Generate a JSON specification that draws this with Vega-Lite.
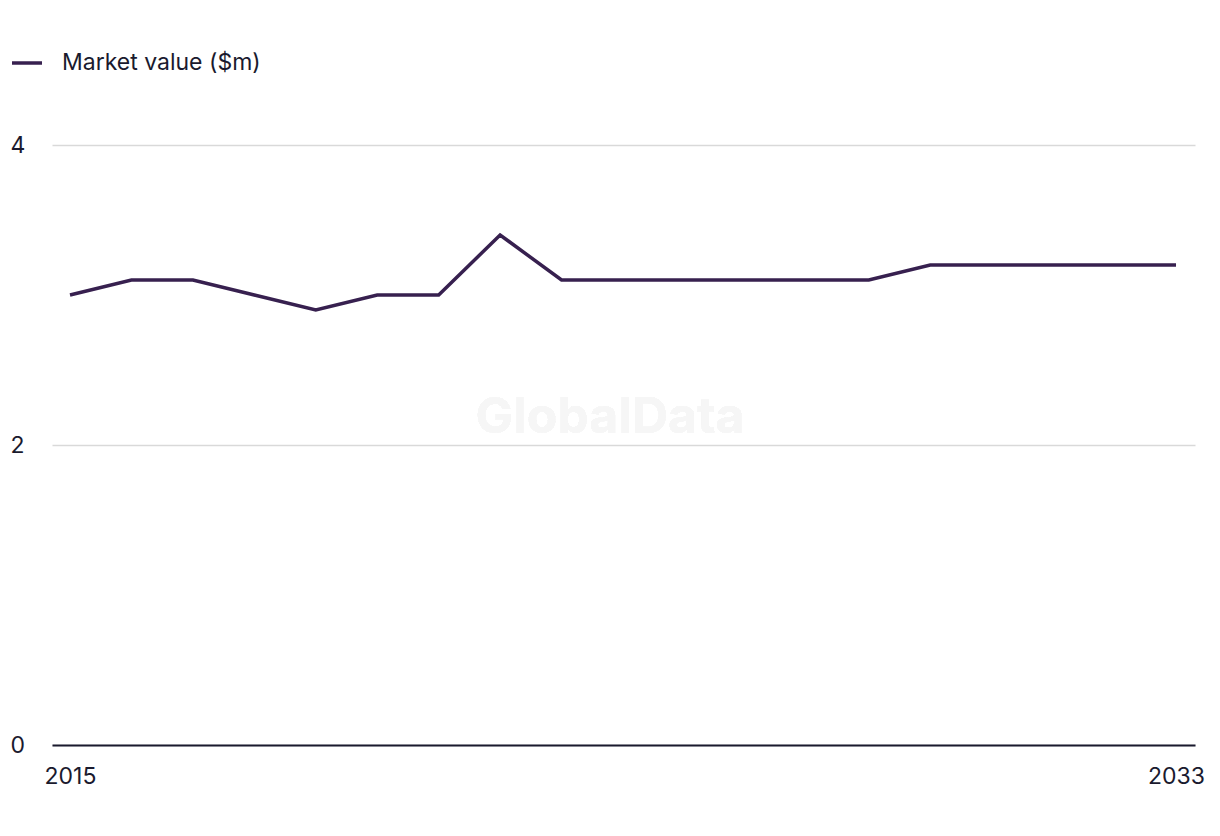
{
  "$schema": "https://vega.github.io/schema/vega-lite/v6.json",
  "autosize": {"type": "none"},
  "width": 1143,
  "height": 600,
  "padding": {"left": 52, "top": 145, "right": 25, "bottom": 91},
  "background": "white",
  "config": {
    "view": {"stroke": null},
    "font": "Inter",
    "axis": {"labelFont": "Inter", "labelFontSize": 23, "labelColor": "#1a1a2e", "ticks": false, "title": null}
  },
  "data": {
    "values": [
      {"year": 2015, "value": 3.0, "series": "Market value ($m)"},
      {"year": 2016, "value": 3.1, "series": "Market value ($m)"},
      {"year": 2017, "value": 3.1, "series": "Market value ($m)"},
      {"year": 2018, "value": 3.0, "series": "Market value ($m)"},
      {"year": 2019, "value": 2.9, "series": "Market value ($m)"},
      {"year": 2020, "value": 3.0, "series": "Market value ($m)"},
      {"year": 2021, "value": 3.0, "series": "Market value ($m)"},
      {"year": 2022, "value": 3.4, "series": "Market value ($m)"},
      {"year": 2023, "value": 3.1, "series": "Market value ($m)"},
      {"year": 2024, "value": 3.1, "series": "Market value ($m)"},
      {"year": 2025, "value": 3.1, "series": "Market value ($m)"},
      {"year": 2026, "value": 3.1, "series": "Market value ($m)"},
      {"year": 2027, "value": 3.1, "series": "Market value ($m)"},
      {"year": 2028, "value": 3.1, "series": "Market value ($m)"},
      {"year": 2029, "value": 3.2, "series": "Market value ($m)"},
      {"year": 2030, "value": 3.2, "series": "Market value ($m)"},
      {"year": 2031, "value": 3.2, "series": "Market value ($m)"},
      {"year": 2032, "value": 3.2, "series": "Market value ($m)"},
      {"year": 2033, "value": 3.2, "series": "Market value ($m)"}
    ]
  },
  "layer": [
    {
      "mark": {"type": "text", "text": "GlobalData", "fontSize": 50, "fontWeight": "bold", "font": "Inter", "color": "#f6f6f6"},
      "encoding": {
        "x": {"datum": 2023.79, "type": "quantitative"},
        "y": {"datum": 2.18, "type": "quantitative"}
      }
    },
    {
      "mark": {"type": "line", "strokeWidth": 3.5, "interpolate": "linear"},
      "encoding": {
        "x": {
          "field": "year", "type": "quantitative",
          "scale": {"domain": [2014.707, 2033.309], "nice": false, "zero": false},
          "axis": {"values": [2015, 2033], "format": "d", "grid": false, "domain": true, "domainColor": "#1a1a2e", "domainWidth": 2, "labelPadding": 20, "labelFlush": false}
        },
        "y": {
          "field": "value", "type": "quantitative",
          "scale": {"domain": [0, 4], "nice": false},
          "axis": {"values": [0, 2, 4], "format": "d", "domain": false, "grid": true, "gridColor": "#d9d9d9", "gridWidth": 1.5, "labelAlign": "left", "labelBaseline": "middle", "labelPadding": 42}
        },
        "color": {
          "field": "series", "type": "nominal",
          "scale": {"range": ["#37204f"]},
          "legend": {
            "title": null, "orient": "none", "legendX": -42, "legendY": -99,
            "symbolType": "stroke", "symbolSize": 900, "symbolStrokeWidth": 3.5,
            "labelFont": "Inter", "labelFontSize": 23, "labelColor": "#1a1a2e", "labelOffset": 18, "labelLimit": 0
          }
        }
      }
    }
  ]
}
